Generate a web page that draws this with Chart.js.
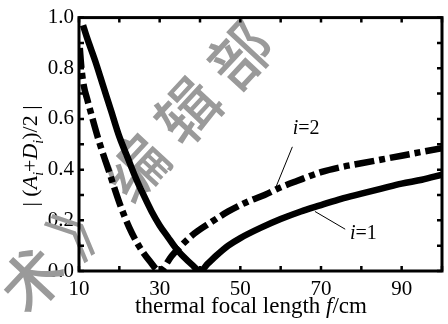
<!DOCTYPE html>
<html>
<head>
<meta charset="utf-8">
<script src="https://cdn.jsdelivr.net/npm/chart.js@4.4.1/dist/chart.umd.min.js"></script>
<style>
  html, body { margin: 0; padding: 0; background: #fff; }
  #wrap { width: 448px; height: 324px; position: relative; }
</style>
</head>
<body>
<div id="wrap"><canvas id="chart"></canvas></div>
<script>
// ─── Дані ───────────────────────────────────────────────────────────────────
// i=1 (суцільна лінія)
const focal1 = [11, 12, 14, 16, 18, 20, 22, 24, 26, 28, 30, 32, 34, 36, 38, 40,
                42, 44, 47, 50, 55, 60, 65, 70, 75, 80, 85, 90, 95, 100];
const absAD1 = [0.97, 0.92, 0.83, 0.73, 0.63, 0.53, 0.45, 0.37, 0.30, 0.235, 0.18, 0.135, 0.09, 0.055, 0.025, 0.0,
                0.03, 0.06, 0.10, 0.13, 0.17, 0.205, 0.235, 0.26, 0.285, 0.305, 0.325, 0.345, 0.36, 0.38];
// i=2 (штрих-пунктир)
const focal2 = [10.2, 10.6, 11.2, 12, 13.2, 15, 17.5, 20, 22.5, 25, 27.5, 30,
                33, 38, 43, 47, 52, 56, 60, 64, 70, 75, 80, 85, 90, 95, 100];
const absAD2 = [0.88, 0.80, 0.73, 0.68, 0.61, 0.51, 0.39, 0.27, 0.17, 0.095, 0.04, 0.0,
                0.06, 0.14, 0.195, 0.235, 0.275, 0.30, 0.33, 0.355, 0.39, 0.41, 0.425, 0.44, 0.455, 0.47, 0.485];

const xLabels = [10, 30, 50, 70, 90];
const yLabels = [0, 0.2, 0.4, 0.6, 0.8, 1.0];

// підписи кривих: [f, значення] для тексту і для виносної лінії
const notes = [
  { text: ["i", "=2"], at: [66.3, 0.57], from: [62.9, 0.49], to: [58.8, 0.33] },
  { text: ["i", "=1"], at: [80.5, 0.155], from: [68.5, 0.235], to: [76.0, 0.165] }
];

const SERIF = '"Liberation Serif", "DejaVu Serif", serif';

function toPoints(xs, ys) { return xs.map((x, i) => ({ x, y: ys[i] })); }

// малює текст із частинами різного стилю
function drawRich(ctx, parts, x, y, size) {
  const fontOf = p => `${p.italic ? "italic " : ""}${p.sub ? Math.round(size * 0.65) : size}px ${SERIF}`;
  let total = 0;
  parts.forEach(p => { ctx.font = fontOf(p); total += ctx.measureText(p.t).width; });
  let cx = x - total / 2;
  parts.forEach(p => {
    ctx.font = fontOf(p);
    ctx.fillText(p.t, cx, y + (p.sub ? size * 0.25 : 0));
    cx += ctx.measureText(p.t).width;
  });
}

// ─── Водяний знак ───────────────────────────────────────────────────────────
const watermarkPlugin = {
  id: "watermark",
  beforeDatasetsDraw(chart) {
    const ctx = chart.ctx;
    const chars = ["部", "辑", "编", "》", "术", "技"];
    ctx.save();
    ctx.fillStyle = "#9a9a9a";
    ctx.font = '500 62px "Noto Sans CJK SC"';
    ctx.textAlign = "center";
    ctx.textBaseline = "middle";
    chars.forEach((c, i) => {
      ctx.save();
      ctx.translate(240 - 52 * i, 55 + 56 * i);
      ctx.rotate(-47 * Math.PI / 180);
      ctx.fillText(c, 0, 0);
      ctx.restore();
    });
    ctx.restore();
  }
};

// ─── Рамка, внутрішні риски, підписи ────────────────────────────────────────
const framePlugin = {
  id: "frame",
  afterDraw(chart) {
    const { ctx, chartArea: a, scales: { x, y } } = chart;
    ctx.save();
    ctx.strokeStyle = "#000";
    ctx.lineWidth = 2.5;
    ctx.beginPath();
    x.ticks.forEach(t => {
      const px = x.getPixelForValue(t.value);
      ctx.moveTo(px, a.bottom); ctx.lineTo(px, a.bottom - 5);
      ctx.moveTo(px, a.top); ctx.lineTo(px, a.top + 5);
    });
    y.ticks.forEach(t => {
      const py = y.getPixelForValue(t.value);
      ctx.moveTo(a.left, py); ctx.lineTo(a.left + 5, py);
      ctx.moveTo(a.right, py); ctx.lineTo(a.right - 5, py);
    });
    ctx.stroke();
    ctx.lineWidth = 3;
    ctx.strokeRect(a.left, a.top, a.right - a.left, a.bottom - a.top);

    // назви осей
    ctx.fillStyle = "#000";
    ctx.textBaseline = "alphabetic";
    drawRich(ctx, [
      { t: "thermal focal length " }, { t: "f", italic: true }, { t: "/cm" }
    ], 251, 313, 23);

    ctx.save();
    ctx.translate(37, 156);
    ctx.rotate(-Math.PI / 2);
    drawRich(ctx, [
      { t: "| (" }, { t: "A", italic: true }, { t: "i", italic: true, sub: true },
      { t: "+" }, { t: "D", italic: true }, { t: "i", italic: true, sub: true },
      { t: ")/2 |" }
    ], 0, 0, 22);
    ctx.restore();

    // підписи кривих з виносками
    ctx.lineWidth = 1;
    notes.forEach(n => {
      ctx.beginPath();
      ctx.moveTo(x.getPixelForValue(n.from[0]), y.getPixelForValue(n.from[1]));
      ctx.lineTo(x.getPixelForValue(n.to[0]), y.getPixelForValue(n.to[1]));
      ctx.stroke();
      drawRich(ctx, [{ t: n.text[0], italic: true }, { t: n.text[1] }],
        x.getPixelForValue(n.at[0]), y.getPixelForValue(n.at[1]) + 7, 20);
    });
    ctx.restore();
  }
};

new Chart(document.getElementById("chart"), {
  type: "line",
  data: {
    datasets: [
      {
        label: "i=1",
        data: toPoints(focal1, absAD1),
        borderColor: "#000",
        borderWidth: 6.5,
        pointRadius: 0,
        tension: 0.4,
        cubicInterpolationMode: "monotone",
        fill: false
      },
      {
        label: "i=2",
        data: toPoints(focal2, absAD2),
        borderColor: "#000",
        borderWidth: 6.5,
        borderDash: [20, 5, 6, 5],
        borderCapStyle: "butt",
        pointRadius: 0,
        tension: 0.4,
        cubicInterpolationMode: "monotone",
        fill: false
      }
    ]
  },
  options: {
    responsive: true,
    maintainAspectRatio: false,
    animation: false,
    layout: { padding: { top: 16, right: 1, left: 0, bottom: 0 } },
    plugins: {
      legend: { display: false },
      tooltip: { enabled: false }
    },
    scales: {
      x: {
        type: "linear",
        min: 10,
        max: 100,
        grid: { display: false, drawTicks: false },
        border: { display: false },
        afterFit: s => { s.height = 53; },
        ticks: {
          stepSize: 10,
          maxRotation: 0,
          autoSkip: false,
          padding: 6,
          color: "#000",
          font: { family: SERIF, size: 21 },
          callback: v => xLabels.includes(v) ? String(v) : ""
        }
      },
      y: {
        min: 0,
        max: 1.0,
        grid: { display: false, drawTicks: false },
        border: { display: false },
        afterFit: s => { s.width = 79; },
        ticks: {
          stepSize: 0.1,
          autoSkip: false,
          padding: 5,
          color: "#000",
          font: { family: SERIF, size: 21 },
          callback: v => yLabels.some(l => Math.abs(l - v) < 1e-6) ? v.toFixed(1) : ""
        }
      }
    }
  },
  plugins: [watermarkPlugin, framePlugin]
});
</script>
</body>
</html>
